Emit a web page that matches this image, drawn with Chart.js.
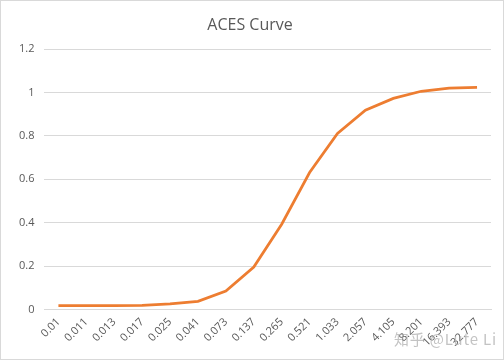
<!DOCTYPE html>
<html>
<head>
<meta charset="utf-8">
<script src="https://cdn.jsdelivr.net/npm/chart.js@4/dist/chart.umd.min.js"></script>
<style>
html,body{margin:0;padding:0;background:#fff;}
#wrap{position:relative;width:502px;height:358px;border:1px solid #d9d9d9;}
canvas{display:block;}
#wm{position:absolute;left:393px;top:327px;font-family:"Noto Sans CJK SC","Open Sans",sans-serif;font-size:15px;letter-spacing:0.8px;color:rgba(170,170,170,0.7);pointer-events:none;white-space:nowrap;}
</style>
</head>
<body>
<div id="wrap"><canvas id="c" width="502" height="358"></canvas><div id="wm">知乎 @Lute Li</div></div>
<script>
const categories = ["0.01","0.011","0.013","0.017","0.025","0.041","0.073","0.137","0.265","0.521","1.033","2.057","4.105","8.201","16.393","32.777"];
const acesValues = [0.017,0.017,0.017,0.018,0.025,0.037,0.085,0.195,0.393,0.631,0.811,0.919,0.973,1.006,1.021,1.024];
const yTicks = [0,0.2,0.4,0.6,0.8,1,1.2];
const titleText = "ACES Curve";

new Chart(document.getElementById('c'), {
  type: 'line',
  data: {
    labels: categories,
    datasets: [{
      data: acesValues,
      borderColor: '#ED7D31',
      borderWidth: 2.75,
      pointRadius: 0,
      tension: 0,
      fill: false
    }]
  },
  options: {
    responsive: false,
    animation: false,
    layout: {padding: {left: 8, right: 12, top: 8, bottom: 4}},
    plugins: {
      legend: {display: false},
      tooltip: {enabled: false},
      title: {
        display: true,
        text: titleText,
        color: '#595959',
        font: {family: 'Open Sans', size: 16, weight: 'normal'},
        padding: {top: 7, bottom: 14}
      }
    },
    scales: {
      x: {
        offset: true,
        grid: {display: false, drawTicks: false},
        border: {display: true, color: '#d9d9d9'},
        ticks: {
          color: '#595959',
          font: {family: 'Open Sans', size: 11},
          maxRotation: 45, minRotation: 45,
          autoSkip: false,
          padding: 6
        }
      },
      y: {
        min: 0, max: 1.2,
        afterBuildTicks: (axis) => { axis.ticks = yTicks.map(v => ({value: v})); },
        grid: {color: '#d9d9d9', drawTicks: false},
        border: {display: false},
        ticks: {
          color: '#595959',
          font: {family: 'Open Sans', size: 11},
          padding: 10,
          callback: (v) => String(Math.round(v*10)/10)
        }
      }
    }
  }
});
</script>
</body>
</html>
